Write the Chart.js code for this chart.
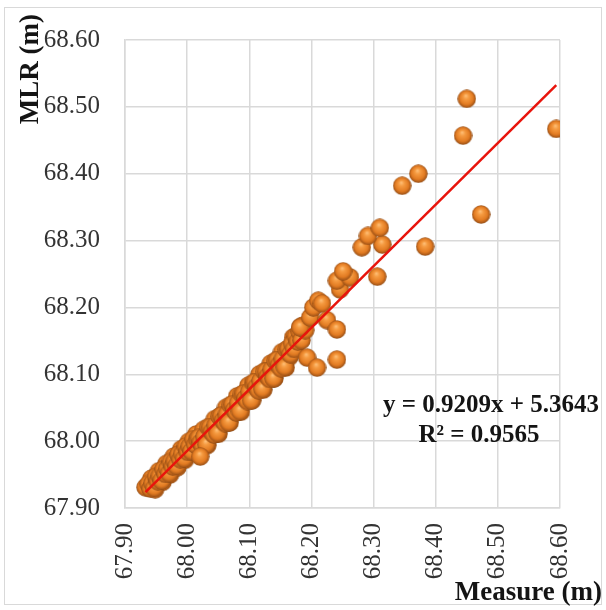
<!DOCTYPE html>
<html><head><meta charset="utf-8">
<script src="https://cdn.jsdelivr.net/npm/chart.js@4.4.0/dist/chart.umd.min.js"></script>
<style>
html,body{margin:0;padding:0;background:#fff;}
#wrap{position:relative;width:606px;height:610px;overflow:hidden;}
#frame{position:absolute;left:4px;top:7px;width:598px;height:598px;border:1px solid #d9d9d9;box-sizing:border-box;}
canvas{position:absolute;left:0;top:0;}
</style></head><body>
<div id="wrap"><div id="frame"></div><canvas id="c" width="606" height="610"></canvas></div>
<script>
const measure = [
67.9425,67.9485,67.9545,67.9605,67.9665,67.9725,67.9785,67.9845,67.9905,67.9965,
68.0025,68.0085,68.0145,68.0205,68.0265,68.0325,68.0385,68.0445,68.0505,68.0565,
68.0625,68.0685,68.0745,68.0805,68.0865,68.0925,68.0985,68.1045,68.1105,68.1165,
68.1225,68.1285,68.1345,68.1405,68.1465,68.1525,68.1585,68.1645,68.1705,68.1765,
68.1825,67.933,
67.938,67.941,67.944,67.947,67.950,67.953,67.956,67.959,67.962,67.965,
67.968,67.971,67.974,67.977,67.980,67.983,67.986,67.989,67.992,67.995,
67.998,68.001,68.004,68.007,68.010,68.013,68.016,68.019,68.022,68.025,
68.028,68.031,68.034,68.037,68.040,68.043,68.046,68.049,68.052,68.055,
68.058,68.061,68.064,68.067,68.070,68.073,68.076,68.079,68.082,68.085,
68.088,68.091,68.094,68.097,68.100,68.103,68.106,68.109,68.112,68.115,
68.118,68.121,68.124,68.127,68.130,68.133,68.136,68.139,68.142,68.145,
68.148,68.151,68.154,68.157,68.160,68.163,68.166,68.169,68.172,68.175,
68.178,68.181,68.184,68.187,68.190,
68.021,68.182,68.193,68.198,68.203,68.211,68.209,68.217,68.225,68.241,
68.241,68.246,68.241,68.262,68.251,68.306,68.281,68.314,68.291,68.310,
68.383,68.346,68.372,68.444,68.450,68.473,68.594
];
const mlr = [
67.944,67.928,67.955,67.939,67.966,67.950,67.977,67.961,67.988,67.972,
67.999,67.983,68.010,67.993,68.017,67.994,68.010,68.033,68.011,68.026,
68.050,68.028,68.043,68.067,68.044,68.060,68.083,68.061,68.076,68.100,
68.077,68.093,68.116,68.094,68.109,68.133,68.110,68.126,68.155,68.146,
68.171,67.931,
67.936,67.929,67.937,67.930,67.947,67.940,67.948,67.941,67.958,67.951,
67.959,67.952,67.969,67.962,67.970,67.963,67.980,67.973,67.981,67.974,
67.992,67.984,67.992,67.985,68.003,67.995,68.003,68.005,67.998,67.993,
68.007,67.995,68.021,68.021,68.014,68.010,68.024,68.012,68.037,68.038,
68.031,68.027,68.040,68.028,68.054,68.055,68.047,68.043,68.057,68.045,
68.070,68.071,68.064,68.060,68.074,68.061,68.087,68.088,68.081,68.076,
68.090,68.078,68.104,68.104,68.097,68.093,68.107,68.094,68.120,68.121,
68.114,68.109,68.123,68.111,68.137,68.138,68.130,68.146,68.138,68.157,
68.149,68.164,68.151,68.173,68.166,
67.977,68.170,68.125,68.185,68.200,68.210,68.110,68.206,68.181,68.167,
68.122,68.227,68.240,68.245,68.254,68.246,68.290,68.294,68.307,68.319,
68.291,68.382,68.400,68.457,68.512,68.339,68.467
];
const xTickLabels = ['67.90','68.00','68.10','68.20','68.30','68.40','68.50','68.60'];
const yTickLabels = ['67.90','68.00','68.10','68.20','68.30','68.40','68.50','68.60'];
const slope = 0.9209;
const intercept = 5.3643;
const equationText = 'y = 0.9209x + 5.3643';
const r2Text = 'R² = 0.9565';
const xTitle = 'Measure (m)';
const yTitle = 'MLR (m)';

// sphere marker
function makeSphere(d){
  const c = document.createElement('canvas');
  c.width = d; c.height = d;
  const g = c.getContext('2d');
  const r = d/2;
  const grad = g.createRadialGradient(r - r*0.1, r - r*0.35, 0, r, r, r);
  grad.addColorStop(0, '#ffc27c');
  grad.addColorStop(0.3, '#f59a40');
  grad.addColorStop(0.7, '#e27b22');
  grad.addColorStop(0.92, '#a85818');
  grad.addColorStop(1, '#7a3e10');
  g.fillStyle = grad;
  g.beginPath(); g.arc(r, r, r - 0.3, 0, Math.PI*2); g.fill();
  return c;
}
const sphere = makeSphere(19);

const points = measure.map((x,i)=>({x:x, y:mlr[i]}));
const xMin = Math.min(...measure), xMax = Math.max(...measure);
const trend = [{x:xMin, y:slope*xMin+intercept},{x:xMax, y:slope*xMax+intercept}];

const serif = '"Liberation Serif", "Times New Roman", serif';
const gridColor = '#d9d9d9';

const textPlugin = {
  id:'texts',
  afterDraw(chart){
    const ctx = chart.ctx;
    ctx.save();
    ctx.fillStyle = '#141414';
    ctx.font = 'bold 27px ' + serif;
    ctx.textBaseline = 'middle';
    ctx.textAlign = 'right';
    ctx.fillText(xTitle, 602, 593);
    ctx.save();
    ctx.translate(31, 14);
    ctx.rotate(-Math.PI/2);
    ctx.textAlign = 'right';
    ctx.fillText(yTitle, 0, 0);
    ctx.restore();
    ctx.font = 'bold 25px ' + serif;
    ctx.textAlign = 'center';
    ctx.fillText(equationText, 491, 406);
    ctx.fillText(r2Text, 479, 436);
    ctx.restore();
  }
};

new Chart(document.getElementById('c'), {
  type:'scatter',
  data:{
    datasets:[
      {
        data: trend, showLine:true, borderColor:'#e8140c', borderWidth:2.5,
        pointRadius:0, order:0
      },
      {
        data: points, pointStyle: sphere, pointRadius: 9.5, order:1
      }
    ]
  },
  options:{
    responsive:false,
    animation:false,
    events:[],
    layout:{padding:{left:0, top:39, right:46, bottom:0}},
    plugins:{legend:{display:false}, tooltip:{enabled:false}},
    scales:{
      x:{
        type:'linear', min:67.9, max:68.6,
        afterBuildTicks:(s)=>{ s.ticks = xTickLabels.map(v=>({value:parseFloat(v)})); },
        afterFit:(s)=>{ s.height = 102; },
        ticks:{
          callback:(v,i)=>xTickLabels[i],
          minRotation:90, maxRotation:90, padding:15,
          color:'#333333', font:{family:serif, size:25}
        },
        grid:{color:gridColor, lineWidth:1.5, drawTicks:false},
        border:{color:gridColor, width:1.5}
      },
      y:{
        type:'linear', min:67.9, max:68.6,
        afterBuildTicks:(s)=>{ s.ticks = yTickLabels.map(v=>({value:parseFloat(v)})); },
        afterFit:(s)=>{ s.width = 125; },
        ticks:{
          callback:(v,i)=>yTickLabels[i],
          padding:25,
          color:'#333333', font:{family:serif, size:25}
        },
        grid:{color:gridColor, lineWidth:1.5, drawTicks:false},
        border:{color:gridColor, width:1.5}
      }
    }
  },
  plugins:[textPlugin]
});
</script>
</body></html>
